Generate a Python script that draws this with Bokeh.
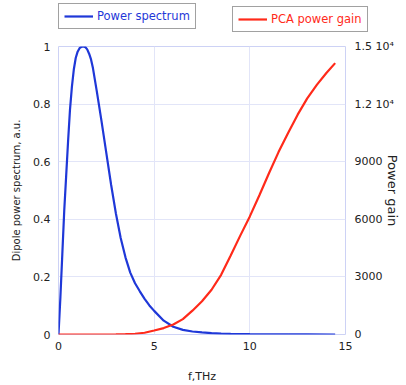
from bokeh.plotting import figure
from bokeh.layouts import column
from bokeh.models import Range1d, LinearAxis, FixedTicker, Legend
from bokeh.embed import file_html
from bokeh.resources import INLINE

# Dipole power spectrum (a.u.) vs frequency (THz)
spec_f = [0.0, 0.1, 0.2, 0.3, 0.4, 0.5, 0.6, 0.7, 0.8, 0.9, 1.0, 1.1, 1.2, 1.3, 1.4,
          1.5, 1.6, 1.7, 1.8, 1.9, 2.0, 2.25, 2.5, 2.75, 3.0, 3.25, 3.5, 3.75, 4.0,
          4.25, 4.5, 4.75, 5.0, 5.5, 6.0, 6.5, 7.0, 7.5, 8.0, 8.5, 9.0, 10.0, 11.0,
          12.0, 13.0, 14.46]
spec_v = [0.0, 0.13, 0.28, 0.43, 0.55, 0.67, 0.78, 0.86, 0.92, 0.96, 0.982, 0.994,
          0.999, 1.0, 0.998, 0.99, 0.975, 0.955, 0.925, 0.885, 0.845, 0.74, 0.63,
          0.52, 0.42, 0.335, 0.268, 0.215, 0.178, 0.15, 0.124, 0.101, 0.082, 0.048,
          0.027, 0.016, 0.0105, 0.0075, 0.005, 0.0033, 0.0025, 0.0012, 0.0006,
          0.0003, 0.0001, 0.0]

# PCA power gain vs frequency (THz)
gain_f = [0.0, 1.0, 2.0, 3.0, 3.5, 4.0, 4.5, 5.0, 5.5, 6.0, 6.5, 7.0, 7.5, 8.0,
          8.5, 9.0, 9.5, 10.0, 10.5, 11.0, 11.5, 12.0, 12.5, 13.0, 13.5, 14.0, 14.46]
gain_v = [0, 0, 1, 8, 18, 38, 90, 208, 335, 520, 800, 1240, 1730, 2330,
          3110, 4120, 5150, 6150, 7250, 8400, 9500, 10500, 11450, 12300, 13000,
          13620, 14135]

x_ticks = [0, 5, 10, 15]
left_ticks = [0, 0.2, 0.4, 0.6, 0.8, 1]
left_labels = {0: "0", 0.2: "0.2", 0.4: "0.4", 0.6: "0.6", 0.8: "0.8", 1: "1"}
right_ticks = [0, 3000, 6000, 9000, 12000, 15000]
right_labels = {0: "0", 3000: "3000", 6000: "6000", 9000: "9000",
                12000: "1.2 10\u2074", 15000: "1.5 10\u2074"}

FONT = "DejaVu Sans"
BLUE = "#1f38d8"
RED = "#ff2a1a"
GRID = "#e2e5f8"
TXT = "#222222"

# ---- main plot ----
p = figure(width=406, height=349, output_backend="svg", toolbar_location=None,
           x_range=Range1d(0, 15), y_range=Range1d(0, 1))
p.min_border_left = 58
p.min_border_right = 61
p.min_border_top = 10
p.min_border_bottom = 50
p.frame_align = False
p.extra_y_ranges = {"gain": Range1d(0, 15000)}
p.outline_line_color = "#cdd2f5"

r1 = p.line(spec_f, spec_v, line_color=BLUE, line_width=2.2)
r2 = p.line(gain_f, gain_v, line_color=RED, line_width=2.2, y_range_name="gain")

ax_r = LinearAxis(y_range_name="gain")
p.add_layout(ax_r, "right")

for ax in [p.xaxis[0], p.yaxis[0], ax_r]:
    ax.axis_line_color = None
    ax.major_tick_line_color = None
    ax.minor_tick_line_color = None
    ax.major_tick_out = 0
    ax.major_tick_in = 0
    ax.minor_tick_out = 0
    ax.minor_tick_in = 0
    ax.major_label_text_font = FONT
    ax.major_label_text_font_size = "11px"
    ax.major_label_text_color = TXT
    ax.axis_label_text_font = FONT
    ax.axis_label_text_font_style = "normal"
    ax.axis_label_text_color = TXT

p.xaxis[0].ticker = FixedTicker(ticks=x_ticks)
p.xaxis[0].major_label_standoff = 7
p.xaxis[0].axis_label = "f,THz"
p.xaxis[0].axis_label_text_font_size = "11px"
p.xaxis[0].axis_label_standoff = 17

p.yaxis[0].ticker = FixedTicker(ticks=left_ticks)
p.yaxis[0].major_label_overrides = left_labels
p.yaxis[0].major_label_standoff = 8
p.yaxis[0].axis_label = "Dipole power spectrum, a.u."
p.yaxis[0].axis_label_text_font_size = "10px"
p.yaxis[0].axis_label_standoff = 8

ax_r.ticker = FixedTicker(ticks=right_ticks)
ax_r.major_label_overrides = right_labels
ax_r.major_label_standoff = 9
ax_r.axis_label = "Power gain"
ax_r.axis_label_text_font_size = "13px"
ax_r.axis_label_standoff = -12

p.xgrid.ticker = FixedTicker(ticks=x_ticks)
p.ygrid.ticker = FixedTicker(ticks=left_ticks)
p.xgrid.grid_line_color = GRID
p.ygrid.grid_line_color = GRID

# ---- legend strip above the plot ----
top = figure(width=406, height=36, output_backend="svg", toolbar_location=None,
             x_range=Range1d(0, 406), y_range=Range1d(0, 36),
             x_axis_location=None, y_axis_location=None)
top.min_border = 0
top.frame_align = False
top.outline_line_color = None
top.xgrid.visible = False
top.ygrid.visible = False
nan = float("nan")
d1 = top.line([nan], [nan], line_color=BLUE, line_width=2.2)
d2 = top.line([nan], [nan], line_color=RED, line_width=2.2)


def make_legend(label, rend, loc, color):
    lg = Legend(items=[(label, [rend])], location=loc)
    lg.border_line_color = "#444444"
    lg.border_line_width = 1
    lg.background_fill_alpha = 0.0
    lg.label_text_color = color
    lg.label_text_font = FONT
    lg.label_text_font_size = "11.5px"
    lg.label_standoff = 4
    lg.glyph_width = 29
    lg.glyph_height = 12
    lg.label_height = 12
    lg.padding = 5
    lg.spacing = 0
    lg.margin = 0
    return lg


top.add_layout(make_legend("Power spectrum", d1, (58, 7), BLUE), "center")
top.add_layout(make_legend("PCA power gain", d2, (232, 4), RED), "center")

layout = column(top, p, spacing=0)
open("out.html", "w").write(file_html(layout, INLINE))
